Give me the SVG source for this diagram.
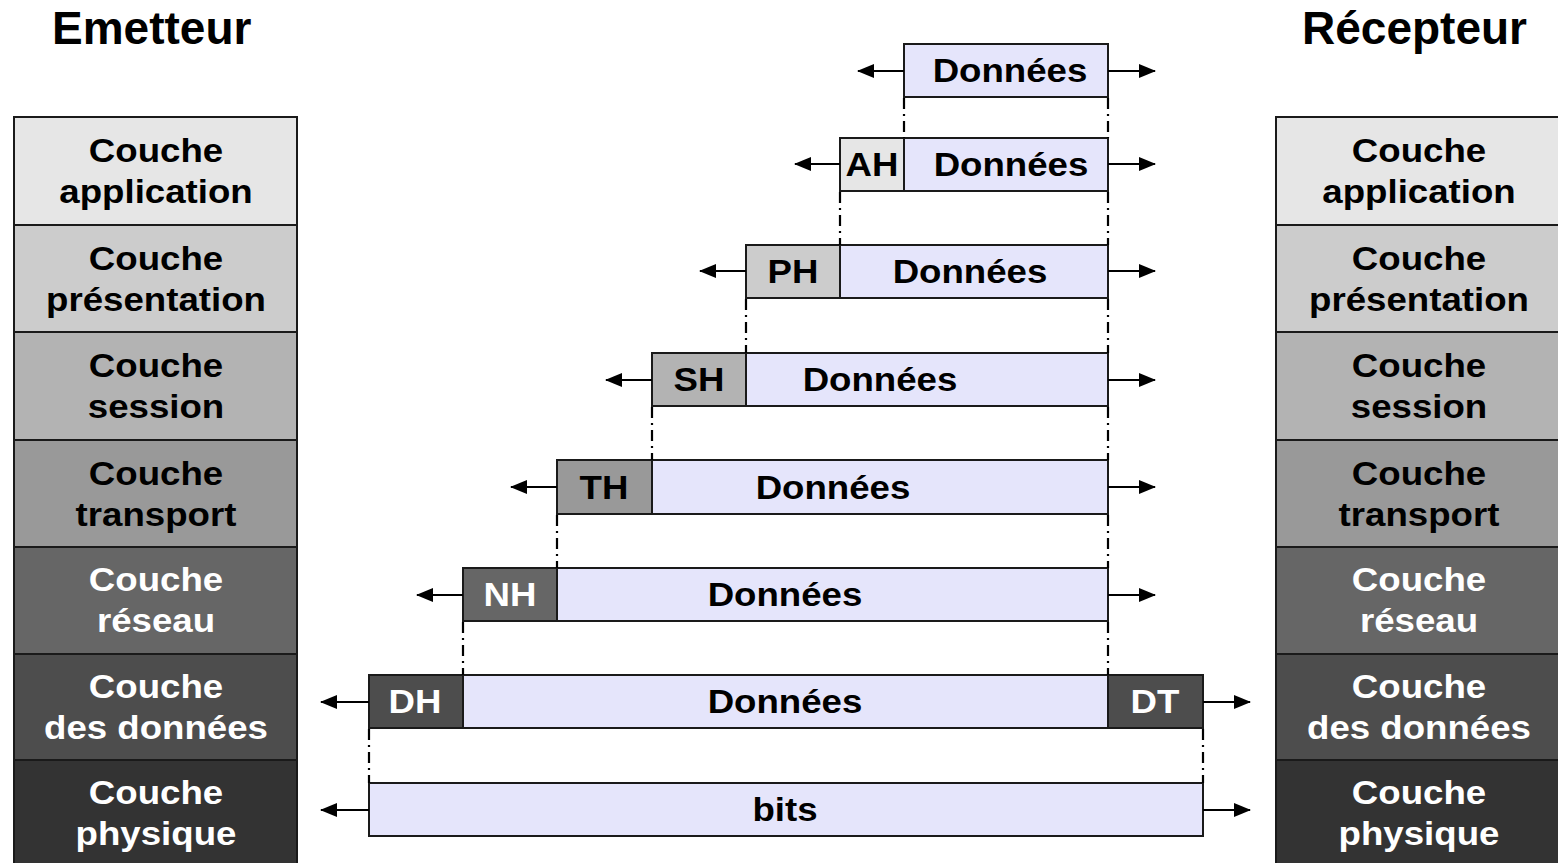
<svg xmlns="http://www.w3.org/2000/svg" width="1558" height="863" viewBox="0 0 1558 863">
  <style>
    .title { font-family: "Liberation Sans", Arial, sans-serif; font-weight: bold; font-size: 46px; fill: #000; }
    .lbl { font-family: "Liberation Sans", Arial, sans-serif; font-weight: bold; font-size: 33px; text-anchor: middle; }
    .dk { fill: #000; }
    .lt { fill: #fff; }
    .layer { stroke: #1a1a1a; stroke-width: 2; }
    .pkt { stroke: #1a1a1a; stroke-width: 2; }
    .data { fill: #e5e5fb; }
    .arrow { stroke: #000; stroke-width: 2; fill: none; marker-end: url(#head); }
    .guide { stroke: #000; stroke-width: 2.2; fill: none; stroke-dasharray: 11 5 2 5; }
  </style>
  <defs>
    <marker id="head" viewBox="0 0 17 14" refX="16" refY="7" markerWidth="17" markerHeight="14" markerUnits="userSpaceOnUse" orient="auto">
      <path d="M0,0 L17,7 L0,14 z" fill="#000"/>
    </marker>
  </defs>

  <rect width="1558" height="863" fill="#fff"/>

  <!-- Titles -->
  <text class="title" x="52" y="44">Emetteur</text>
  <text class="title" x="1302" y="44">Récepteur</text>

  <!-- Sender stack -->
  <g id="emetteur">
    <g id="e-application">
      <rect class="layer" x="14" y="117" width="283" height="108" fill="#e6e6e6"/>
      <text class="lbl dk" transform="translate(156 162) scale(1.11 1)">Couche</text>
      <text class="lbl dk" transform="translate(156 203) scale(1.11 1)">application</text>
    </g>
    <g id="e-presentation">
      <rect class="layer" x="14" y="225" width="283" height="107" fill="#cccccc"/>
      <text class="lbl dk" transform="translate(156 270) scale(1.11 1)">Couche</text>
      <text class="lbl dk" transform="translate(156 311) scale(1.11 1)">présentation</text>
    </g>
    <g id="e-session">
      <rect class="layer" x="14" y="332" width="283" height="108" fill="#b3b3b3"/>
      <text class="lbl dk" transform="translate(156 377) scale(1.11 1)">Couche</text>
      <text class="lbl dk" transform="translate(156 418) scale(1.11 1)">session</text>
    </g>
    <g id="e-transport">
      <rect class="layer" x="14" y="440" width="283" height="107" fill="#999999"/>
      <text class="lbl dk" transform="translate(156 485) scale(1.11 1)">Couche</text>
      <text class="lbl dk" transform="translate(156 526) scale(1.11 1)">transport</text>
    </g>
    <g id="e-reseau">
      <rect class="layer" x="14" y="547" width="283" height="107" fill="#666666"/>
      <text class="lbl lt" transform="translate(156 591) scale(1.11 1)">Couche</text>
      <text class="lbl lt" transform="translate(156 632) scale(1.11 1)">réseau</text>
    </g>
    <g id="e-donnees">
      <rect class="layer" x="14" y="654" width="283" height="106" fill="#4d4d4d"/>
      <text class="lbl lt" transform="translate(156 698) scale(1.11 1)">Couche</text>
      <text class="lbl lt" transform="translate(156 739) scale(1.11 1)">des données</text>
    </g>
    <g id="e-physique">
      <rect class="layer" x="14" y="760" width="283" height="110" fill="#333333"/>
      <text class="lbl lt" transform="translate(156 804) scale(1.11 1)">Couche</text>
      <text class="lbl lt" transform="translate(156 845) scale(1.11 1)">physique</text>
    </g>
  </g>

  <!-- Receiver stack -->
  <g id="recepteur">
    <g id="r-application">
      <rect class="layer" x="1276" y="117" width="290" height="108" fill="#e6e6e6"/>
      <text class="lbl dk" transform="translate(1419 162) scale(1.11 1)">Couche</text>
      <text class="lbl dk" transform="translate(1419 203) scale(1.11 1)">application</text>
    </g>
    <g id="r-presentation">
      <rect class="layer" x="1276" y="225" width="290" height="107" fill="#cccccc"/>
      <text class="lbl dk" transform="translate(1419 270) scale(1.11 1)">Couche</text>
      <text class="lbl dk" transform="translate(1419 311) scale(1.11 1)">présentation</text>
    </g>
    <g id="r-session">
      <rect class="layer" x="1276" y="332" width="290" height="108" fill="#b3b3b3"/>
      <text class="lbl dk" transform="translate(1419 377) scale(1.11 1)">Couche</text>
      <text class="lbl dk" transform="translate(1419 418) scale(1.11 1)">session</text>
    </g>
    <g id="r-transport">
      <rect class="layer" x="1276" y="440" width="290" height="107" fill="#999999"/>
      <text class="lbl dk" transform="translate(1419 485) scale(1.11 1)">Couche</text>
      <text class="lbl dk" transform="translate(1419 526) scale(1.11 1)">transport</text>
    </g>
    <g id="r-reseau">
      <rect class="layer" x="1276" y="547" width="290" height="107" fill="#666666"/>
      <text class="lbl lt" transform="translate(1419 591) scale(1.11 1)">Couche</text>
      <text class="lbl lt" transform="translate(1419 632) scale(1.11 1)">réseau</text>
    </g>
    <g id="r-donnees">
      <rect class="layer" x="1276" y="654" width="290" height="106" fill="#4d4d4d"/>
      <text class="lbl lt" transform="translate(1419 698) scale(1.11 1)">Couche</text>
      <text class="lbl lt" transform="translate(1419 739) scale(1.11 1)">des données</text>
    </g>
    <g id="r-physique">
      <rect class="layer" x="1276" y="760" width="290" height="110" fill="#333333"/>
      <text class="lbl lt" transform="translate(1419 804) scale(1.11 1)">Couche</text>
      <text class="lbl lt" transform="translate(1419 845) scale(1.11 1)">physique</text>
    </g>
  </g>

  <!-- Encapsulated units -->
  <g id="pdu-application">
    <rect class="pkt data" x="904" y="44" width="204" height="53"/>
    <text class="lbl dk" transform="translate(1010 82) scale(1.11 1)">Données</text>
  </g>
  <g id="pdu-presentation">
    <rect class="pkt" x="840" y="138" width="64" height="53" fill="#e6e6e6"/>
    <rect class="pkt data" x="904" y="138" width="204" height="53"/>
    <text class="lbl dk" transform="translate(872 176) scale(1.11 1)">AH</text>
    <text class="lbl dk" transform="translate(1011 176) scale(1.11 1)">Données</text>
  </g>
  <g id="pdu-session">
    <rect class="pkt" x="746" y="245" width="94" height="53" fill="#cccccc"/>
    <rect class="pkt data" x="840" y="245" width="268" height="53"/>
    <text class="lbl dk" transform="translate(793 283) scale(1.11 1)">PH</text>
    <text class="lbl dk" transform="translate(970 283) scale(1.11 1)">Données</text>
  </g>
  <g id="pdu-transport">
    <rect class="pkt" x="652" y="353" width="94" height="53" fill="#b3b3b3"/>
    <rect class="pkt data" x="746" y="353" width="362" height="53"/>
    <text class="lbl dk" transform="translate(699 391) scale(1.11 1)">SH</text>
    <text class="lbl dk" transform="translate(880 391) scale(1.11 1)">Données</text>
  </g>
  <g id="pdu-reseau">
    <rect class="pkt" x="557" y="460" width="95" height="54" fill="#999999"/>
    <rect class="pkt data" x="652" y="460" width="456" height="54"/>
    <text class="lbl dk" transform="translate(604 499) scale(1.11 1)">TH</text>
    <text class="lbl dk" transform="translate(833 499) scale(1.11 1)">Données</text>
  </g>
  <g id="pdu-liaison">
    <rect class="pkt" x="463" y="568" width="94" height="53" fill="#666666"/>
    <rect class="pkt data" x="557" y="568" width="551" height="53"/>
    <text class="lbl lt" transform="translate(510 606) scale(1.11 1)">NH</text>
    <text class="lbl dk" transform="translate(785 606) scale(1.11 1)">Données</text>
  </g>
  <g id="pdu-trame">
    <rect class="pkt" x="369" y="675" width="94" height="53" fill="#4d4d4d"/>
    <rect class="pkt data" x="463" y="675" width="645" height="53"/>
    <rect class="pkt" x="1108" y="675" width="95" height="53" fill="#4d4d4d"/>
    <text class="lbl lt" transform="translate(415 713) scale(1.11 1)">DH</text>
    <text class="lbl dk" transform="translate(785 713) scale(1.11 1)">Données</text>
    <text class="lbl lt" transform="translate(1155 713) scale(1.11 1)">DT</text>
  </g>
  <g id="pdu-bits">
    <rect class="pkt data" x="369" y="783" width="834" height="53"/>
    <text class="lbl dk" transform="translate(785 821) scale(1.11 1)">bits</text>
  </g>

  <!-- Connectors: extent arrows and dash-dot guides -->
  <g id="connectors">
    <line class="arrow" x1="904" y1="71" x2="858" y2="71"/>
    <line class="arrow" x1="1108" y1="71" x2="1155" y2="71"/>
    <line class="arrow" x1="840" y1="164" x2="795" y2="164"/>
    <line class="arrow" x1="1108" y1="164" x2="1155" y2="164"/>
    <line class="arrow" x1="746" y1="271" x2="700" y2="271"/>
    <line class="arrow" x1="1108" y1="271" x2="1155" y2="271"/>
    <line class="arrow" x1="652" y1="380" x2="606" y2="380"/>
    <line class="arrow" x1="1108" y1="380" x2="1155" y2="380"/>
    <line class="arrow" x1="557" y1="487" x2="511" y2="487"/>
    <line class="arrow" x1="1108" y1="487" x2="1155" y2="487"/>
    <line class="arrow" x1="463" y1="595" x2="417" y2="595"/>
    <line class="arrow" x1="1108" y1="595" x2="1155" y2="595"/>
    <line class="arrow" x1="369" y1="702" x2="321" y2="702"/>
    <line class="arrow" x1="1203" y1="702" x2="1250" y2="702"/>
    <line class="arrow" x1="369" y1="810" x2="321" y2="810"/>
    <line class="arrow" x1="1203" y1="810" x2="1250" y2="810"/>

    <line class="guide" x1="904" y1="98" x2="904" y2="138"/>
    <line class="guide" x1="1108" y1="98" x2="1108" y2="138"/>
    <line class="guide" x1="840" y1="192" x2="840" y2="245"/>
    <line class="guide" x1="1108" y1="192" x2="1108" y2="245"/>
    <line class="guide" x1="746" y1="299" x2="746" y2="353"/>
    <line class="guide" x1="1108" y1="299" x2="1108" y2="353"/>
    <line class="guide" x1="652" y1="407" x2="652" y2="460"/>
    <line class="guide" x1="1108" y1="407" x2="1108" y2="460"/>
    <line class="guide" x1="557" y1="515" x2="557" y2="568"/>
    <line class="guide" x1="1108" y1="515" x2="1108" y2="568"/>
    <line class="guide" x1="463" y1="622" x2="463" y2="675"/>
    <line class="guide" x1="1108" y1="622" x2="1108" y2="675"/>
    <line class="guide" x1="369" y1="729" x2="369" y2="783"/>
    <line class="guide" x1="1203" y1="729" x2="1203" y2="783"/>
  </g>
</svg>
